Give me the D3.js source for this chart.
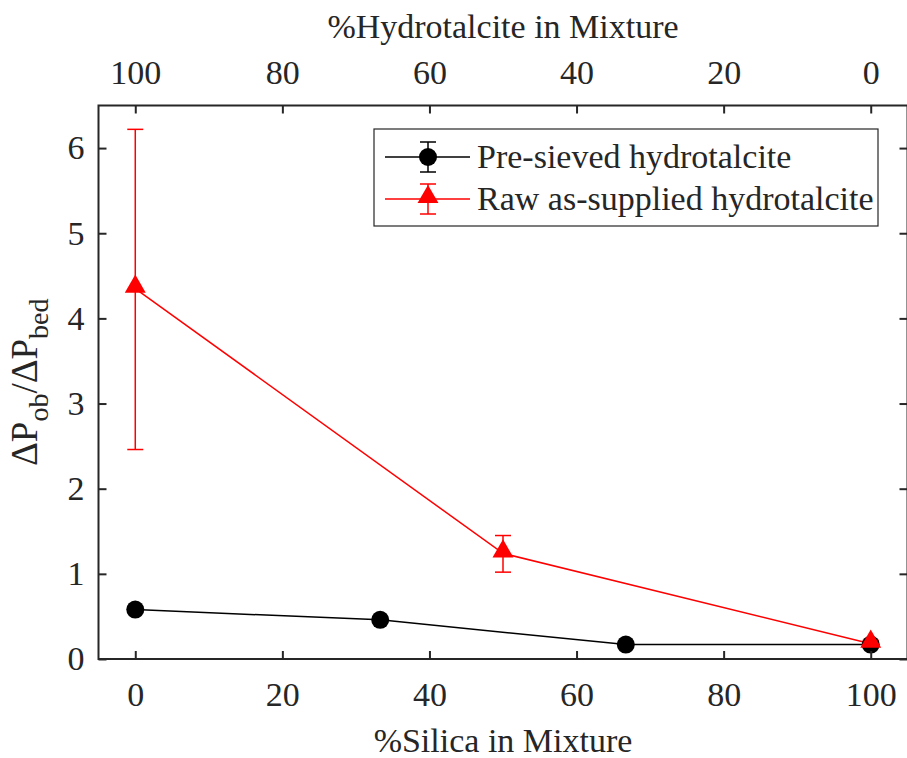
<!DOCTYPE html>
<html>
<head>
<meta charset="utf-8">
<script src="https://cdn.jsdelivr.net/npm/d3@7"></script>
<style>
  html, body { margin: 0; padding: 0; background: #fff; }
  svg { display: block; font-family: "Liberation Serif", serif; }
  svg text { font-family: "Liberation Serif", serif; fill: #262626; }
</style>
</head>
<body>
<svg id="chart" width="907" height="758"></svg>
<script>
// Pressure-drop ratio vs. mixture composition
const silicaPct      = [0, 33.3, 66.7, 100];
const presievedMean  = [0.58, 0.46, 0.17, 0.17];
const presievedErr   = [0.03, 0.03, 0.02, 0.02];

const rawSilicaPct   = [0, 50, 100];
const rawMean        = [4.35, 1.24, 0.18];
const rawLow         = [2.46, 1.02, 0.14];
const rawHigh        = [6.22, 1.45, 0.22];

const xTicks   = [0, 20, 40, 60, 80, 100];
const topTicks = [100, 80, 60, 40, 20, 0];
const yTicks   = [0, 1, 2, 3, 4, 5, 6];

const seriesNames = ["Pre-sieved hydrotalcite", "Raw as-supplied hydrotalcite"];

const FONT = "'Liberation Serif', serif";
const FS = 34;

const svg = d3.select("#chart");
const plotL = 98.5, plotR = 907.5, plotT = 105.5, plotB = 659;
const axisColor = "#262626";

const x = d3.scaleLinear().domain([-5, 105]).range([plotL, plotR]);
const xTop = d3.scaleLinear().domain([105, -5]).range([plotL, plotR]);
const y = d3.scaleLinear().domain([0, 6.5]).range([plotB, plotT]);

const g = svg.append("g");

// series lines
const line = d3.line().x(d => x(d[0])).y(d => y(d[1]));
g.append("path")
  .datum(silicaPct.map((s, i) => [s, presievedMean[i]]))
  .attr("d", line).attr("fill", "none").attr("stroke", "#000").attr("stroke-width", 1.5);
g.append("path")
  .datum(rawSilicaPct.map((s, i) => [s, rawMean[i]]))
  .attr("d", line).attr("fill", "none").attr("stroke", "#ff0000").attr("stroke-width", 1.5);

// error bars
function errorBars(xs, lo, hi, color) {
  const cap = 8;
  xs.forEach((s, i) => {
    const cx = x(s);
    g.append("line").attr("x1", cx).attr("x2", cx).attr("y1", y(lo[i])).attr("y2", y(hi[i]))
      .attr("stroke", color).attr("stroke-width", 1.5);
    [lo[i], hi[i]].forEach(v => {
      g.append("line").attr("x1", cx - cap).attr("x2", cx + cap).attr("y1", y(v)).attr("y2", y(v))
        .attr("stroke", color).attr("stroke-width", 1.5);
    });
  });
}
errorBars(silicaPct, presievedMean.map((m, i) => m - presievedErr[i]),
          presievedMean.map((m, i) => m + presievedErr[i]), "#000");
errorBars(rawSilicaPct, rawLow, rawHigh, "#ff0000");

// markers
const circleSym = d3.symbol().type(d3.symbolCircle).size(Math.PI * 9 * 9);
const triSym = d3.symbol().type(d3.symbolTriangle).size(190);
silicaPct.forEach((s, i) => {
  g.append("path").attr("d", circleSym)
    .attr("transform", `translate(${x(s)},${y(presievedMean[i])})`).attr("fill", "#000");
});
rawSilicaPct.forEach((s, i) => {
  g.append("path").attr("d", triSym)
    .attr("transform", `translate(${x(s)},${y(rawMean[i]) - 2})`).attr("fill", "#ff0000");
});

// axes box
const tickLen = 8;
const axes = svg.append("g");
axes.append("rect").attr("x", plotL).attr("y", plotT).attr("width", plotR - plotL).attr("height", plotB - plotT)
  .attr("fill", "none").attr("stroke", axisColor).attr("stroke-width", 2);

const fmt = d3.format("d");
const bottomAxis = axes.append("g").attr("transform", `translate(0,${plotB})`)
  .call(d3.axisBottom(x).tickValues(xTicks).tickFormat(fmt).tickSizeInner(-tickLen).tickSizeOuter(0).tickPadding(23));
const topAxis = axes.append("g").attr("transform", `translate(0,${plotT})`)
  .call(d3.axisTop(xTop).tickValues(topTicks).tickFormat(fmt).tickSizeInner(-tickLen).tickSizeOuter(0).tickPadding(22));
const leftAxis = axes.append("g").attr("transform", `translate(${plotL},0)`)
  .call(d3.axisLeft(y).tickValues(yTicks).tickFormat(fmt).tickSizeInner(-tickLen).tickSizeOuter(0).tickPadding(14));
const rightAxis = axes.append("g").attr("transform", `translate(${plotR},0)`)
  .call(d3.axisRight(y).tickValues(yTicks).tickSizeInner(-tickLen).tickSizeOuter(0).tickFormat(""));

[bottomAxis, topAxis, leftAxis, rightAxis].forEach(a => {
  a.attr("font-family", FONT).attr("font-size", FS);
  a.select(".domain").remove();
  a.selectAll(".tick line").attr("stroke", axisColor).attr("stroke-width", 2);
  a.selectAll(".tick text").attr("fill", axisColor);
});

// axis titles
svg.append("text").attr("x", (plotL + plotR) / 2).attr("y", 752)
  .attr("text-anchor", "middle").attr("font-family", FONT).attr("font-size", FS).text("%Silica in Mixture");
svg.append("text").attr("x", (plotL + plotR) / 2).attr("y", 38)
  .attr("text-anchor", "middle").attr("font-family", FONT).attr("font-size", FS).text("%Hydrotalcite in Mixture");

// y title: ΔP_ob / ΔP_bed, rotated
const yl = svg.append("text").attr("transform", `translate(37,${(plotT + plotB) / 2}) rotate(-90)`)
  .attr("text-anchor", "middle").attr("font-family", FONT).attr("font-size", 37);
yl.append("tspan").text("\u0394P");
yl.append("tspan").attr("dy", 11).attr("font-size", 28).text("ob");
yl.append("tspan").attr("dy", -11).text("/\u0394P");
yl.append("tspan").attr("dy", 11).attr("font-size", 28).text("bed");

// legend
const leg = svg.append("g");
leg.append("rect").attr("x", 374).attr("y", 129).attr("width", 504).attr("height", 97)
  .attr("fill", "#fff").attr("stroke", axisColor).attr("stroke-width", 1.2);
const legRows = [
  { name: seriesNames[0], color: "#000", sym: circleSym, yy: 157 },
  { name: seriesNames[1], color: "#ff0000", sym: triSym, yy: 199 }
];
legRows.forEach(r => {
  const cx = 428;
  leg.append("line").attr("x1", 385).attr("x2", 470).attr("y1", r.yy).attr("y2", r.yy)
    .attr("stroke", r.color).attr("stroke-width", 1.5);
  leg.append("line").attr("x1", cx).attr("x2", cx).attr("y1", r.yy - 15).attr("y2", r.yy + 15)
    .attr("stroke", r.color).attr("stroke-width", 1.5);
  [r.yy - 15, r.yy + 15].forEach(v => leg.append("line")
    .attr("x1", cx - 8).attr("x2", cx + 8).attr("y1", v).attr("y2", v)
    .attr("stroke", r.color).attr("stroke-width", 1.5));
  leg.append("path").attr("d", r.sym).attr("transform", `translate(${cx},${r.yy - (r.sym === triSym ? 2 : 0)})`)
    .attr("fill", r.color);
  leg.append("text").attr("x", 477).attr("y", r.yy + 11).attr("font-family", FONT)
    .attr("font-size", FS).text(r.name);
});
</script>
</body>
</html>
